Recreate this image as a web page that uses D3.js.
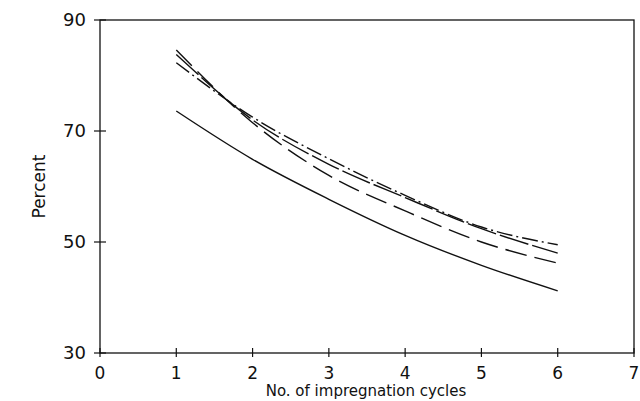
<!DOCTYPE html>
<meta charset="utf-8">
<html>
<head>
<script src="https://d3js.org/d3.v7.min.js"></script>
<style>
  body { margin: 0; background: #fff; }
  text { font-family: "DejaVu Sans", sans-serif; fill: #111; }
</style>
</head>
<body>
<div id="chart"></div>
<script>
// cycles on the x axis
const cycles = [1, 2, 3, 4, 5, 6];
// the four curves
const solidLine   = [73.6, 64.9, 57.7, 51.2, 45.8, 41.2];
const dashDotLine = [82.3, 72.5, 65.0, 58.4, 52.7, 49.5];
const mediumDash  = [83.8, 72.0, 64.0, 58.0, 52.4, 48.0];
const longDash    = [84.6, 71.5, 62.0, 55.6, 50.0, 46.2];
const xTicks = [0, 1, 2, 3, 4, 5, 6, 7];
const yTicks = [30, 50, 70, 90];

const W = 640, H = 401;
const margin = {top: 20, right: 6, bottom: 48, left: 100};

const svg = d3.select('#chart').append('svg')
  .attr('width', W).attr('height', H);

const x = d3.scaleLinear().domain([0, 7]).range([margin.left, W - margin.right]);
const y = d3.scaleLinear().domain([30, 90]).range([H - margin.bottom, margin.top]);

// frame
svg.append('rect')
  .attr('x', x(0)).attr('y', y(90))
  .attr('width', x(7) - x(0)).attr('height', y(30) - y(90))
  .attr('fill', 'none').attr('stroke', '#111').attr('stroke-width', 1.3);

// y ticks cross the axis
const yAxis = svg.append('g').attr('transform', `translate(${x(0)},0)`);
yAxis.selectAll('line').data(yTicks).join('line')
  .attr('x1', -6).attr('x2', 6)
  .attr('y1', d => y(d)).attr('y2', d => y(d))
  .attr('stroke', '#111').attr('stroke-width', 1.2);
yAxis.selectAll('text').data(yTicks).join('text')
  .attr('x', -14).attr('y', d => y(d)).attr('dy', '0.35em')
  .attr('text-anchor', 'end').style('font-size', '18px')
  .text(d => d);

// x ticks
const xAxis = svg.append('g').attr('transform', `translate(0,${y(30)})`);
xAxis.selectAll('line').data(xTicks).join('line')
  .attr('x1', d => x(d)).attr('x2', d => x(d))
  .attr('y1', -5).attr('y2', 4)
  .attr('stroke', '#111').attr('stroke-width', 1.2);
xAxis.selectAll('text').data(xTicks).join('text')
  .attr('x', d => x(d)).attr('y', 26)
  .attr('text-anchor', 'middle').style('font-size', '17px')
  .text(d => d);

// axis titles
svg.append('text')
  .attr('text-anchor', 'middle')
  .attr('transform', `translate(45,${(y(30) + y(90)) / 2})rotate(-90)`)
  .style('font-size', '17px')
  .text('Percent');
svg.append('text')
  .attr('text-anchor', 'middle')
  .attr('x', (x(0) + x(7)) / 2 - 1).attr('y', 396)
  .style('font-size', '15px')
  .text('No. of impregnation cycles');

// curves
const series = [
  {values: solidLine, dash: null},
  {values: dashDotLine, dash: '16,4,2,4'},
  {values: mediumDash, dash: '30,4'},
  {values: longDash, dash: '22,8'}
];
const line = d3.line()
  .x((d, i) => x(cycles[i]))
  .y(d => y(d))
  .curve(d3.curveMonotoneX);

svg.selectAll('path.curve').data(series).join('path')
  .attr('class', 'curve')
  .attr('d', d => line(d.values))
  .attr('fill', 'none')
  .attr('stroke', '#111')
  .attr('stroke-width', 1.4)
  .attr('stroke-dasharray', d => d.dash);
</script>
</body>
</html>
